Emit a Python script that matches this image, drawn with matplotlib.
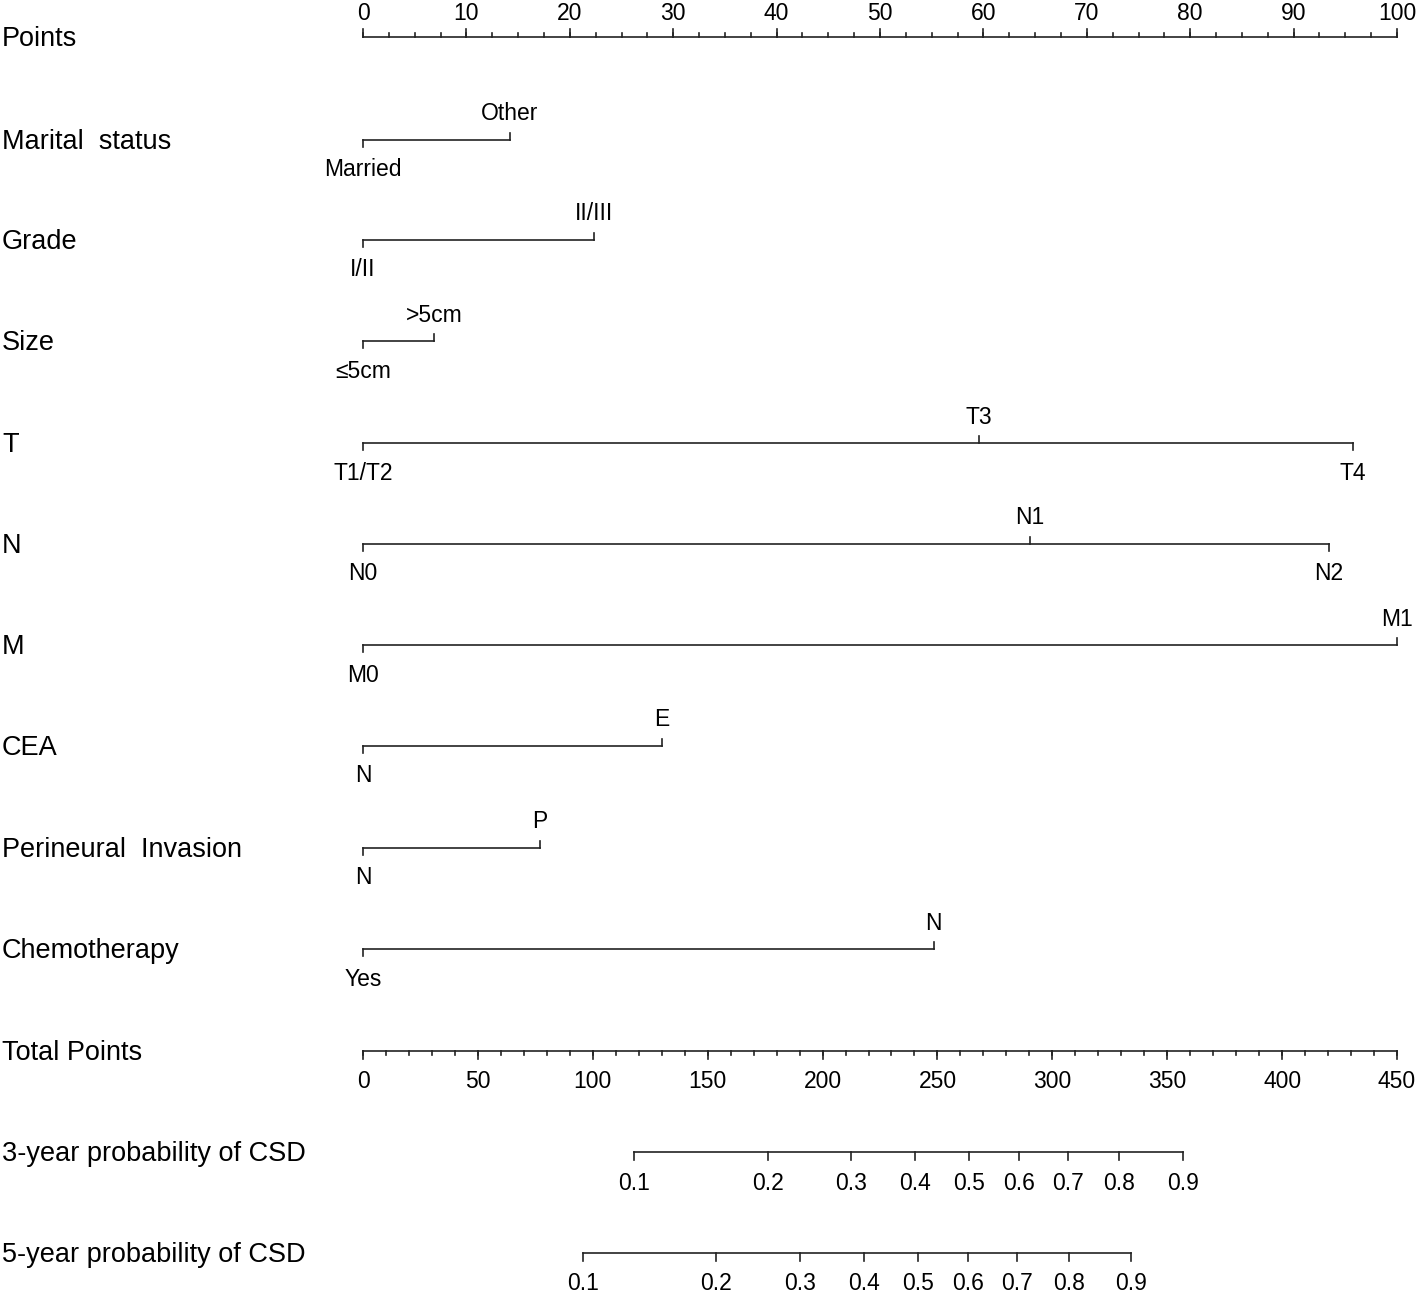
import numpy as np
import matplotlib.pyplot as plt
import matplotlib.transforms as mtransforms

plt.rcParams['font.family'] = ['Liberation Sans', 'DejaVu Sans']

# Points scale
points_major = np.arange(0, 101, 10)
points_minor = np.arange(0, 101, 2.5)

# Variables: level labels and their points
marital_levels = ["Married", "Other"]
marital_pts = [0, 14.2]
grade_levels = ["I/II", "II/III"]
grade_pts = [0, 22.3]
size_levels = ["≤5cm", ">5cm"]
size_pts = [0, 6.9]
t_levels = ["T1/T2", "T3", "T4"]
t_pts = [0, 59.6, 95.7]
n_levels = ["N0", "N1", "N2"]
n_pts = [0, 64.5, 93.4]
m_levels = ["M0", "M1"]
m_pts = [0, 100]
cea_levels = ["N", "E"]
cea_pts = [0, 28.9]
pni_levels = ["N", "P"]
pni_pts = [0, 17.1]
chemo_levels = ["Yes", "N"]
chemo_pts = [0, 55.2]

# Total points scale
total_major = np.arange(0, 451, 50)
total_minor = np.arange(0, 451, 10)
total_max = 450

# Survival probability scales (label -> total points)
prob_labels = ["0.1", "0.2", "0.3", "0.4", "0.5", "0.6", "0.7", "0.8", "0.9"]
prob3_total = [117.9, 176.3, 212.4, 240.2, 263.7, 285.5, 306.8, 329.0, 356.9]
prob5_total = [95.7, 153.6, 190.2, 218.0, 241.5, 263.3, 284.6, 307.3, 334.2]

W, H = 1418, 1293
fig = plt.figure(figsize=(W / 100, H / 100), dpi=100)
ax = fig.add_axes([0, 0, 1, 1])
ax.set_axis_off()

# x: 0 points at 363 px, 100 points at 1397 px
px_per_pt = (1397 - 363) / 100
ax.set_xlim(-363 / px_per_pt, (W - 363) / px_per_pt)
ax.set_ylim(H, 0)

lc = "#222222"
lw = 1.2
fs_lab = 19.5
fs_tick = 16.5
label_tr = mtransforms.blended_transform_factory(fig.transFigure, ax.transData)


def row_label(y, text):
    ax.text(2 / W, y + 2, text, transform=label_tr, ha="left", va="center",
            fontsize=fs_lab, color="black")


# Points row
y = 37
row_label(y, "Points")
ax.plot([0, 100], [y, y], color=lc, lw=lw)
for v in points_minor:
    ax.plot([v, v], [y, y - 4], color=lc, lw=lw)
for v in points_major:
    ax.plot([v, v], [y, y - 8], color=lc, lw=lw)
    ax.text(v, y - 24, f"{v:g}", ha="center", va="center", fontsize=fs_tick)

# Variable rows
rows = [
    ("Marital  status", 140, marital_levels, marital_pts),
    ("Grade", 240, grade_levels, grade_pts),
    ("Size", 341, size_levels, size_pts),
    ("T", 443, t_levels, t_pts),
    ("N", 544, n_levels, n_pts),
    ("M", 645, m_levels, m_pts),
    ("CEA", 746, cea_levels, cea_pts),
    ("Perineural  Invasion", 848, pni_levels, pni_pts),
    ("Chemotherapy", 949, chemo_levels, chemo_pts),
]
for name, y, levels, pts in rows:
    row_label(y, name)
    ax.plot([min(pts), max(pts)], [y, y], color=lc, lw=lw)
    for i, (lev, p) in enumerate(zip(levels, pts)):
        sign = 1 if i % 2 == 0 else -1
        ax.plot([p, p], [y, y + sign * 7], color=lc, lw=lw)
        ax.text(p, y + sign * 28 + 2, lev, ha="center", va="center", fontsize=fs_tick)

# Total points row
y = 1051
row_label(y, "Total Points")
scale = 100 / total_max
ax.plot([0, 100], [y, y], color=lc, lw=lw)
for v in total_minor:
    ax.plot([v * scale, v * scale], [y, y + 4], color=lc, lw=lw)
for v in total_major:
    ax.plot([v * scale, v * scale], [y, y + 8], color=lc, lw=lw)
    ax.text(v * scale, y + 30, f"{v:g}", ha="center", va="center", fontsize=fs_tick)

# Probability rows
for name, y, tot in [("3-year probability of CSD", 1152, prob3_total),
                     ("5-year probability of CSD", 1253, prob5_total)]:
    row_label(y, name)
    xs = [t * scale for t in tot]
    ax.plot([xs[0], xs[-1]], [y, y], color=lc, lw=lw)
    for xv, lab in zip(xs, prob_labels):
        ax.plot([xv, xv], [y, y + 8], color=lc, lw=lw)
        ax.text(xv, y + 31, lab, ha="center", va="center", fontsize=fs_tick)

fig.savefig("out.png", dpi=100)
